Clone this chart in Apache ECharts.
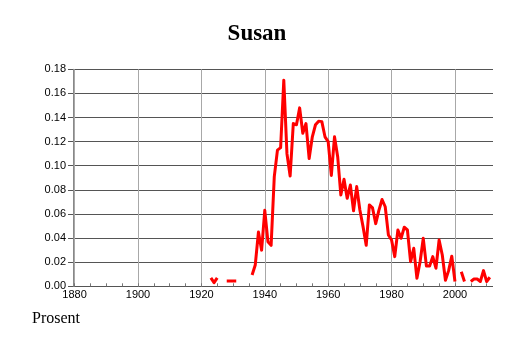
<!DOCTYPE html>
<html><head><meta charset="utf-8">
<script src="https://cdn.jsdelivr.net/npm/echarts@6/dist/echarts.min.js"></script>
<style>html,body{margin:0;padding:0;background:#fff}#c{width:514px;height:343px}</style>
</head><body><div id="c"></div>
<script>
const titleText = 'Susan';
const yAxisTitle = 'Prosent';
const years = [1923,1924,1925,1926,1927,1928,1929,1930,1931,1932,1933,1934,1935,
  1936,1937,1938,1939,1940,1941,1942,1943,1944,1945,1946,1947,1948,1949,1950,
  1951,1952,1953,1954,1955,1956,1957,1958,1959,1960,1961,1962,1963,1964,1965,
  1966,1967,1968,1969,1970,1971,1972,1973,1974,1975,1976,1977,1978,1979,1980,
  1981,1982,1983,1984,1985,1986,1987,1988,1989,1990,1991,1992,1993,1994,1995,
  1996,1997,1998,1999,2000,2001,2002,2003,2004,2005,2006,2007,2008,2009,2010,2011];
const values = [0.007,0.003,0.007,null,null,0.0044,0.0044,0.0044,0.0044,null,null,null,null,
  0.0094,0.0177,0.045,0.030,0.063,0.037,0.034,0.091,0.113,0.115,0.171,0.110,0.0915,0.135,0.134,
  0.148,0.127,0.135,0.106,0.124,0.134,0.137,0.1366,0.124,0.120,0.092,0.124,0.1075,0.0757,0.0888,
  0.073,0.084,0.0627,0.0827,0.0633,0.0495,0.034,0.0675,0.065,0.052,0.063,0.072,0.066,0.0426,0.0384,
  0.0246,0.0467,0.0398,0.049,0.0467,0.0204,0.0315,0.0066,0.0204,0.0398,0.0168,0.0168,0.0246,0.015,0.0384,
  0.026,0.005,0.013,0.025,0.004,null,0.012,0.004,null,0.004,0.006,0.006,0.004,0.013,0.004,0.0075];
const xTickLabels = ['1880','1900','1920','1940','1960','1980','2000'];
const yMin = 0, yMax = 0.18, yStep = 0.02;

const chart = echarts.init(document.getElementById('c'), null, {renderer:'canvas'});
const seriesData = years.map((y, i) => [y, values[i]]);
const gTop = 69.3, gBottom = 56.7;
chart.setOption({
  animation: false,
  backgroundColor: '#fff',
  title: [
    {text: titleText, left: 'center', top: 18,
     textStyle: {fontFamily: 'Liberation Serif', fontWeight: 'bold', fontSize: 23, color: '#000'}},
    {text: yAxisTitle, left: 32, top: 311, padding: 0,
     textStyle: {fontFamily: 'Liberation Serif', fontWeight: 'normal', fontSize: 16, color: '#000'}}
  ],
  grid: [
    {left: 73, right: 21, top: gTop, bottom: gBottom, outerBoundsMode: 'none'},
    {left: 74.6, right: -4.4, top: gTop, bottom: gBottom, outerBoundsMode: 'none'},
    {left: 74.6, right: 27.3, top: gTop, bottom: gBottom, outerBoundsMode: 'none'}
  ],
  xAxis: [
    {gridIndex: 0, type: 'value', min: 1879.5, max: 2012, show: false},
    {gridIndex: 1, type: 'value', min: 1880, max: 2020, interval: 20,
     axisLine: {show: false}, axisTick: {show: false},
     splitLine: {show: true, lineStyle: {color: '#a8a8a8', width: 1}},
     axisLabel: {show: true, showMaxLabel: false, margin: 3, color: '#000',
       fontFamily: 'Liberation Sans', fontSize: 11,
       formatter: v => xTickLabels.includes(String(v)) ? String(v) : ''}},
    {gridIndex: 2, type: 'value', min: 1880, max: 2010, interval: 5,
     axisLine: {show: false}, splitLine: {show: false}, axisLabel: {show: false},
     axisTick: {show: true, inside: true, length: 3, lineStyle: {color: '#777', width: 1}}}
  ],
  yAxis: [
    {gridIndex: 0, type: 'value', min: yMin, max: yMax, interval: yStep,
     axisLine: {show: true, lineStyle: {color: '#888', width: 1}},
     axisTick: {show: true, inside: false, length: 5, lineStyle: {color: '#555'}},
     splitLine: {show: true, lineStyle: {color: '#555', width: 1}},
     axisLabel: {margin: 7, color: '#000', fontFamily: 'Liberation Sans', fontSize: 11,
       formatter: v => v.toFixed(2)}},
    {gridIndex: 1, type: 'value', min: yMin, max: yMax, show: false},
    {gridIndex: 2, type: 'value', min: yMin, max: yMax, show: false}
  ],
  series: [{
    type: 'line', xAxisIndex: 0, yAxisIndex: 0, data: seriesData,
    showSymbol: false, connectNulls: false, clip: true,
    lineStyle: {color: '#ff0000', width: 3, join: 'round', cap: 'butt'},
    z: 10
  }]
});
</script>
</body></html>
